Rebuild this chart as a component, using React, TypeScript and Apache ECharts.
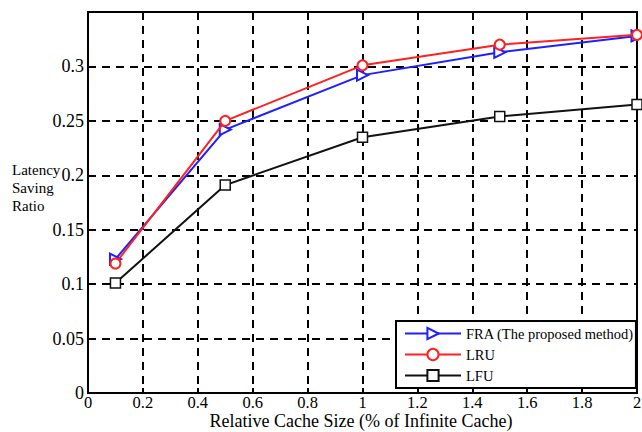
import React, { useEffect, useRef } from "react";
import * as echarts from "echarts";

const xValues = [0.1, 0.5, 1, 1.5, 2];
const fraValues = [0.123, 0.242, 0.292, 0.313, 0.328];
const lruValues = [0.119, 0.25, 0.301, 0.32, 0.329];
const lfuValues = [0.101, 0.191, 0.235, 0.254, 0.265];
const seriesNames = ["FRA (The proposed method)", "LRU", "LFU"];
const xTitle = "Relative Cache Size (% of Infinite Cache)";
const yTitle = "Latency\nSaving\nRatio";

const FONT = "Liberation Serif";

export default function App() {
  const ref = useRef<HTMLDivElement>(null);
  useEffect(() => {
    if (!ref.current) return;
    const chart = echarts.init(ref.current, undefined, { renderer: "svg" });
    const pair = (ys: number[]) => xValues.map((x, i) => [x, ys[i]]);
    const dashed = { show: true, lineStyle: { color: "#000", width: 2, type: [8, 6] } };
    chart.setOption({
      animation: false,
      backgroundColor: "#fff",
      grid: {
        left: 88,
        right: 5,
        top: 12,
        bottom: 39,
        outerBoundsMode: "none",
        containLabel: false,
        show: true,
        borderColor: "#000",
        borderWidth: 2,
        backgroundColor: "transparent",
      },
      xAxis: {
        type: "value",
        min: 0,
        max: 2,
        interval: 0.2,
        axisLine: { show: true, lineStyle: { color: "#000", width: 2 } },
        axisTick: { show: true, inside: true, length: 5, lineStyle: { color: "#000", width: 2 } },
        axisLabel: {
          fontFamily: FONT,
          fontSize: 16.5,
          color: "#000",
          margin: 1,
          formatter: (v: number) => String(Math.round(v * 10) / 10),
        },
        splitLine: dashed,
      },
      yAxis: {
        type: "value",
        min: 0,
        max: 0.35,
        interval: 0.05,
        axisLine: { show: true, lineStyle: { color: "#000", width: 2 } },
        axisTick: { show: true, inside: true, length: 5, lineStyle: { color: "#000", width: 2 } },
        axisLabel: {
          fontFamily: FONT,
          fontSize: 18,
          color: "#000",
          margin: 4,
          formatter: (v: number) => (v > 0.34 ? "" : String(Math.round(v * 100) / 100)),
        },
        splitLine: dashed,
      },
      legend: {
        left: 396,
        top: 321,
        orient: "vertical",
        itemGap: 6,
        itemWidth: 56,
        itemHeight: 14,
        itemStyle: { borderWidth: 2 },
        padding: [5, 2, 5, 8],
        backgroundColor: "#fff",
        borderColor: "#000",
        borderWidth: 2,
        borderRadius: 0,
        textStyle: { fontFamily: FONT, fontSize: 14.5, color: "#000" },
        data: seriesNames,
      },
      graphic: [
        {
          type: "text",
          left: 12,
          top: 161,
          style: {
            text: yTitle,
            fontFamily: FONT,
            fontSize: 15,
            fill: "#000",
            lineHeight: 18,
          },
        },
        {
          type: "text",
          x: 361,
          y: 412,
          style: {
            text: xTitle,
            fontFamily: FONT,
            fontSize: 18,
            fill: "#000",
            align: "center",
            verticalAlign: "top",
          },
        },
      ],
      series: [
        {
          name: seriesNames[0],
          type: "line",
          data: pair(fraValues),
          symbol: "triangle",
          symbolRotate: -90,
          symbolSize: 11,
          z: 3,
          lineStyle: { color: "#1f1fff", width: 2 },
          itemStyle: { color: "#fff", borderColor: "#1f1fff", borderWidth: 2 },
        },
        {
          name: seriesNames[1],
          type: "line",
          data: pair(lruValues),
          symbol: "circle",
          symbolSize: 10,
          z: 4,
          lineStyle: { color: "#ff2020", width: 2 },
          itemStyle: { color: "#fff", borderColor: "#ff2020", borderWidth: 2 },
        },
        {
          name: seriesNames[2],
          type: "line",
          data: pair(lfuValues),
          symbol: "rect",
          symbolSize: 10,
          z: 3,
          lineStyle: { color: "#111", width: 2 },
          itemStyle: { color: "#fff", borderColor: "#111", borderWidth: 1.5 },
        },
      ],
    });
    return () => chart.dispose();
  }, []);
  return <div ref={ref} style={{ width: 642, height: 432, position: "absolute", left: 0, top: 0 }} />;
}
